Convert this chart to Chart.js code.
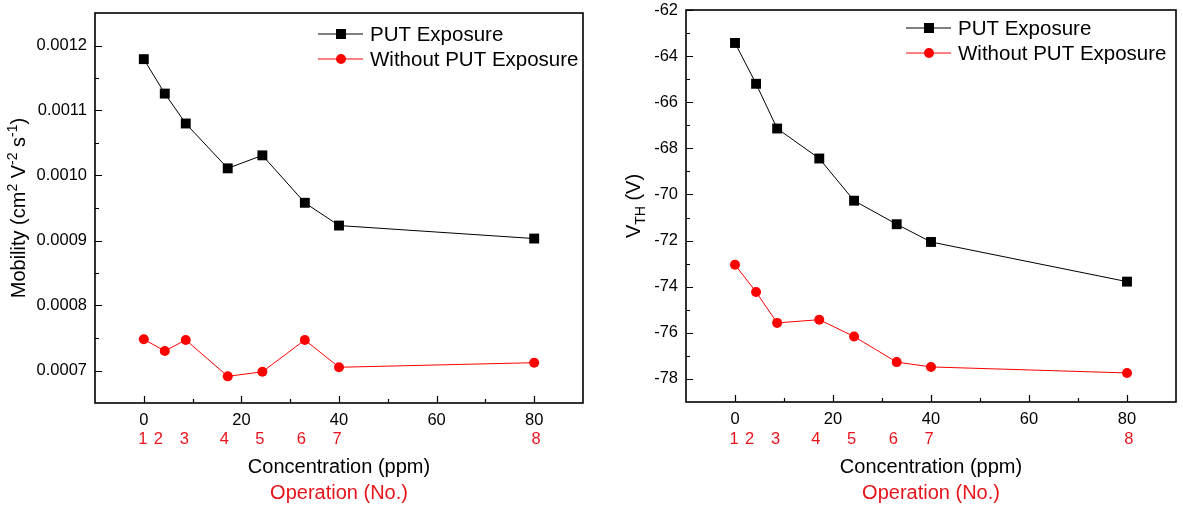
<!DOCTYPE html>
<html>
<head>
<meta charset="utf-8">
<script src="https://cdn.jsdelivr.net/npm/chart.js@4"></script>
<style>
  html, body { margin: 0; padding: 0; background: #fff; }
  .panel { position: absolute; top: 0; height: 508px; }
  #left { left: 0; width: 590px; }
  #right { left: 590px; width: 593px; }
</style>
</head>
<body>
<div class="panel" id="left"><canvas id="mobilityChart"></canvas></div>
<div class="panel" id="right"><canvas id="vthChart"></canvas></div>
<script>
// -------------------- Data --------------------
const concentration = [0, 4.3, 8.6, 17.2, 24.3, 33, 40, 80];
const operationNo = ['1', '2', '3', '4', '5', '6', '7', '8'];
const operationPos = [-0.2, 3.0, 8.3, 16.5, 23.8, 32.3, 39.6, 80.4];

const seriesNames = ['PUT Exposure', 'Without PUT Exposure'];

const mobilityPut = [0.001179, 0.001126, 0.00108, 0.001011, 0.001031, 0.000958, 0.000923, 0.000903];
const mobilityNoPut = [0.000748, 0.00073, 0.000747, 0.000691, 0.000698, 0.000747, 0.000705, 0.000712];

const vthPut = [-63.43, -65.2, -67.14, -68.44, -70.27, -71.29, -72.06, -73.78];
const vthNoPut = [-73.05, -74.23, -75.57, -75.43, -76.16, -77.27, -77.48, -77.74];

const xTicks = [0, 20, 40, 60, 80];
const mobilityTicks = [0.0007, 0.0008, 0.0009, 0.0010, 0.0011, 0.0012];
const vthTicks = [-78, -76, -74, -72, -70, -68, -66, -64, -62];

// -------------------- Styling --------------------
const FONT = "'Liberation Sans', Arial, sans-serif";
const RED = '#ff0000';
const RED_TEXT = '#e8141c';

function points(ys) {
  return concentration.map((x, i) => ({ x: x, y: ys[i] }));
}

function midpoints(ticks) {
  const out = [];
  for (let i = 0; i < ticks.length - 1; i++) out.push((ticks[i] + ticks[i + 1]) / 2);
  return out;
}

// draws frame, inward ticks, legend, operation numbers and axis titles
const decorations = {
  id: 'decorations',
  afterDraw(chart, args, opts) {
    const ctx = chart.ctx;
    const area = chart.chartArea;
    const xs = chart.scales.x;
    const ys = chart.scales.y;
    ctx.save();

    // tick marks (inward, origin style)
    ctx.strokeStyle = '#000';
    ctx.lineWidth = 1.2;
    ctx.beginPath();
    xTicks.forEach(v => {
      const px = Math.round(xs.getPixelForValue(v)) + 0.5;
      ctx.moveTo(px, area.bottom); ctx.lineTo(px, area.bottom - 7);
    });
    midpoints(xTicks).forEach(v => {
      const px = Math.round(xs.getPixelForValue(v)) + 0.5;
      ctx.moveTo(px, area.bottom); ctx.lineTo(px, area.bottom - 4);
    });
    opts.yTicks.forEach(v => {
      const py = Math.round(ys.getPixelForValue(v)) + 0.5;
      ctx.moveTo(area.left, py); ctx.lineTo(area.left + 7, py);
    });
    midpoints(opts.yTicks).forEach(v => {
      const py = Math.round(ys.getPixelForValue(v)) + 0.5;
      ctx.moveTo(area.left, py); ctx.lineTo(area.left + 4, py);
    });
    ctx.stroke();

    // frame
    ctx.lineWidth = 1.6;
    ctx.strokeRect(area.left, area.top, area.right - area.left, area.bottom - area.top);

    // legend
    ctx.textBaseline = 'middle';
    ctx.textAlign = 'left';
    ctx.font = '20.5px ' + FONT;
    chart.data.datasets.forEach((ds, i) => {
      const x0 = area.left + opts.legend.dx;
      const y0 = area.top + opts.legend.dy + i * 25;
      ctx.strokeStyle = ds.borderColor;
      ctx.lineWidth = 1;
      ctx.beginPath();
      ctx.moveTo(x0, y0); ctx.lineTo(x0 + 45, y0);
      ctx.stroke();
      ctx.fillStyle = ds.pointBackgroundColor;
      ctx.beginPath();
      if (ds.pointStyle === 'rect') ctx.rect(x0 + 23 - 5, y0 - 5, 10, 10);
      else ctx.arc(x0 + 23, y0, 5, 0, Math.PI * 2);
      ctx.fill();
      ctx.fillStyle = '#000';
      ctx.fillText(ds.label, x0 + 52, y0 + 1);
    });

    // operation numbers
    ctx.textAlign = 'center';
    ctx.fillStyle = RED_TEXT;
    ctx.font = '16.5px ' + FONT;
    operationNo.forEach((t, i) => {
      ctx.fillText(t, xs.getPixelForValue(operationPos[i]), 439);
    });

    // x titles
    const cx = (area.left + area.right) / 2;
    ctx.font = '20px ' + FONT;
    ctx.fillStyle = '#000';
    ctx.fillText('Concentration (ppm)', cx, 467);
    ctx.fillStyle = RED_TEXT;
    ctx.fillText('Operation (No.)', cx, 493);

    // y title with super/subscripts
    const segs = opts.yTitle;
    const fontFor = s => (s[1] === 0 ? '20px ' : '14px ') + FONT;
    let total = 0;
    segs.forEach(s => { ctx.font = fontFor(s); total += ctx.measureText(s[0]).width; });
    ctx.translate(opts.yTitleX, (area.top + area.bottom) / 2);
    ctx.rotate(-Math.PI / 2);
    ctx.textAlign = 'left';
    ctx.textBaseline = 'alphabetic';
    ctx.fillStyle = '#000';
    let pos = -total / 2;
    segs.forEach(s => {
      ctx.font = fontFor(s);
      const off = s[1] === 1 ? -8 : (s[1] === -1 ? 5 : 0);
      ctx.fillText(s[0], pos, off);
      pos += ctx.measureText(s[0]).width;
    });
    ctx.restore();
  }
};

function makeChart(id, cfg) {
  return new Chart(document.getElementById(id), {
    type: 'line',
    data: {
      datasets: [{
        label: seriesNames[0],
        data: points(cfg.put),
        borderColor: '#000',
        borderWidth: 1,
        pointStyle: 'rect',
        pointRadius: 7,
        pointBackgroundColor: '#000',
        pointBorderWidth: 0,
        tension: 0,
      }, {
        label: seriesNames[1],
        data: points(cfg.noPut),
        borderColor: RED,
        borderWidth: 1,
        pointStyle: 'circle',
        pointRadius: 5,
        pointBackgroundColor: RED,
        pointBorderWidth: 0,
        tension: 0,
      }]
    },
    options: {
      responsive: true,
      maintainAspectRatio: false,
      animation: false,
      layout: { padding: { top: cfg.top, right: cfg.right, left: 0, bottom: 0 } },
      plugins: {
        legend: { display: false },
        tooltip: { enabled: false },
        decorations: {
          yTicks: cfg.yTicks,
          legend: cfg.legend,
          yTitle: cfg.yTitle,
          yTitleX: cfg.yTitleX,
        }
      },
      scales: {
        x: {
          type: 'linear',
          min: -10,
          max: 90,
          grid: { display: false, drawTicks: false },
          border: { display: false },
          ticks: {
            color: '#000',
            font: { family: FONT, size: 16.5 },
            padding: 8,
            maxRotation: 0,
            autoSkip: false,
            callback: v => String(v),
          },
          afterBuildTicks: s => { s.ticks = xTicks.map(v => ({ value: v })); },
          afterFit: s => { s.height = cfg.xHeight; s.paddingLeft = 0; s.paddingRight = 0; },
        },
        y: {
          type: 'linear',
          min: cfg.yMin,
          max: cfg.yMax,
          grid: { display: false, drawTicks: false },
          border: { display: false },
          ticks: {
            color: '#000',
            font: { family: FONT, size: 16.5 },
            padding: 8,
            autoSkip: false,
            callback: cfg.fmt,
          },
          afterBuildTicks: s => { s.ticks = cfg.yTicks.map(v => ({ value: v })); },
          afterFit: s => { s.width = cfg.yWidth; s.paddingTop = 0; s.paddingBottom = 0; },
        }
      }
    },
    plugins: [decorations]
  });
}

makeChart('mobilityChart', {
  put: mobilityPut,
  noPut: mobilityNoPut,
  yMin: 0.00065,
  yMax: 0.00125,
  yTicks: mobilityTicks,
  fmt: v => v.toFixed(4),
  top: 13, right: 6, yWidth: 95, xHeight: 105,
  legend: { dx: 223, dy: 21 },
  yTitle: [['Mobility (cm', 0], ['2', 1], [' V', 0], ['-2', 1], [' s', 0], ['-1', 1], [')', 0]],
  yTitleX: 25,
});

makeChart('vthChart', {
  put: vthPut,
  noPut: vthNoPut,
  yMin: -79,
  yMax: -62,
  yTicks: vthTicks,
  fmt: v => String(v),
  top: 10, right: 3, yWidth: 96, xHeight: 106,
  legend: { dx: 220, dy: 18 },
  yTitle: [['V', 0], ['TH', -1], [' (V)', 0]],
  yTitleX: 50,
});
</script>
</body>
</html>
